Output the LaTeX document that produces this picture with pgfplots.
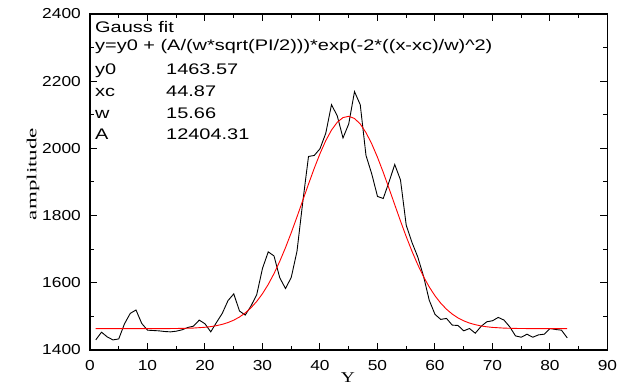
\documentclass[border=0pt]{standalone}
\usepackage{pgfplots}
\pgfplotsset{compat=1.18}
\usepackage{fontspec}
\setmainfont{Liberation Sans}
\newfontfamily\ticksfont{Liberation Sans}[FakeStretch=1.2]
\newfontfamily\notefont{Liberation Sans}[FakeStretch=1.3]
\newfontfamily\labelfont{Liberation Serif}
\newfontfamily\xlabelfont{Liberation Serif}[FakeStretch=1.3]

% measured amplitude
\pgfplotstableread{
x y
1 1430
2 1453
3 1439
4 1430
5 1433
6 1478
7 1509
8 1519
9 1479
10 1459
11 1458
12 1457
13 1455
14 1454
15 1456
16 1460
17 1467
18 1471
19 1489
20 1478
21 1454
22 1482
23 1509
24 1547
25 1567
26 1516
27 1504
28 1531
29 1565
30 1643
31 1692
32 1680
33 1615
34 1583
35 1616
36 1694
37 1840
38 1976
39 1979
40 1999
41 2045
42 2130
43 2097
44 2031
45 2073
46 2169
47 2130
48 1979
49 1924
50 1857
51 1851
52 1900
53 1952
54 1906
55 1771
56 1720
57 1677
58 1620
59 1548
60 1506
61 1491
62 1494
63 1474
64 1473
65 1457
66 1464
67 1450
68 1470
69 1484
70 1487
71 1497
72 1489
73 1469
74 1442
75 1438
76 1447
77 1438
78 1445
79 1447
80 1464
81 1461
82 1459
83 1436
}\measured

% Gauss fit (y0=1463.57, xc=44.87, w=15.66, A=12404.31), tabulated
\pgfplotstableread{
x y
1 1463.57
4 1463.57
8 1463.57
12 1463.59
14 1463.84
16 1464.28
18 1465.32
20 1467.65
21 1469.63
22 1472.44
23 1476.35
24 1481.68
25 1488.83
26 1498.21
27 1510.31
28 1525.62
29 1544.61
30 1567.70
31 1595.20
32 1627.29
33 1663.86
34 1704.67
35 1749.13
36 1796.28
37 1844.96
38 1893.68
39 1940.74
40 1984.43
41 2022.92
42 2054.52
43 2077.81
44 2091.69
45 2095.49
46 2089.03
47 2072.63
48 2047.05
49 2013.50
50 1973.51
51 1928.75
52 1881.10
53 1832.23
54 1783.82
55 1737.27
56 1693.70
57 1653.93
58 1618.50
59 1587.60
60 1561.29
61 1539.30
62 1521.31
63 1506.88
64 1495.53
65 1486.77
66 1480.14
67 1475.40
68 1471.62
69 1469.10
70 1467.24
72 1465.13
74 1464.19
76 1463.80
78 1463.65
80 1463.59
83 1463.57
}\gaussfit

\begin{document}
\begin{tikzpicture}
\useasboundingbox (-90bp,-38bp) rectangle (528bp,350bp);
\begin{axis}[
  scale only axis,
  width=517.5bp, height=336bp,
  xmin=0, xmax=90, ymin=1400, ymax=2400,
  xtick distance=10, ytick distance=200,
  minor x tick num=1, minor y tick num=1,
  tick align=inside,
  major tick length=7bp, minor tick length=4bp,
  tick style={black, line width=1bp},
  axis line style={line width=1.5bp},
  /pgf/number format/assume math mode=true,
  /pgf/number format/1000 sep={},
  tick label style={font=\ticksfont\fontsize{14.5}{14.5}\selectfont, inner sep=0pt},
  xticklabel style={yshift=-10bp},
  yticklabel style={xshift=-9bp},
]
\addplot[black, line width=0.9bp] table[x=x, y=y] {\measured};
\addplot[red, line width=0.9bp] table[x=x, y=y] {\gaussfit};
\end{axis}

\begin{scope}[every node/.style={anchor=base west, inner sep=0pt, font=\notefont\fontsize{15.4}{15.4}\selectfont}]
\node at (5bp,317.7bp) {Gauss fit};
\node at (5bp,299bp) {y=y0 + (A/(w*sqrt(PI/2)))*exp(-2*((x-xc)/w)\textasciicircum2)};
\node at (5bp,275bp) {y0};  \node at (76bp,275bp) {1463.57};
\node at (5bp,253.3bp) {xc}; \node at (76bp,253.3bp) {44.87};
\node at (5bp,231.7bp) {w};  \node at (76bp,231.7bp) {15.66};
\node at (5bp,210.5bp) {A};  \node at (76bp,210.5bp) {12404.31};
\end{scope}

\node[rotate=90, inner sep=0pt] at (-57bp,176bp)
  {\resizebox*{92bp}{12.5bp}{\labelfont\fontsize{14}{14}\selectfont amplitude}};
\node[inner sep=0pt, font=\xlabelfont\fontsize{15}{15}\selectfont] at (258bp,-28bp) {Y};
\end{tikzpicture}
\end{document}
